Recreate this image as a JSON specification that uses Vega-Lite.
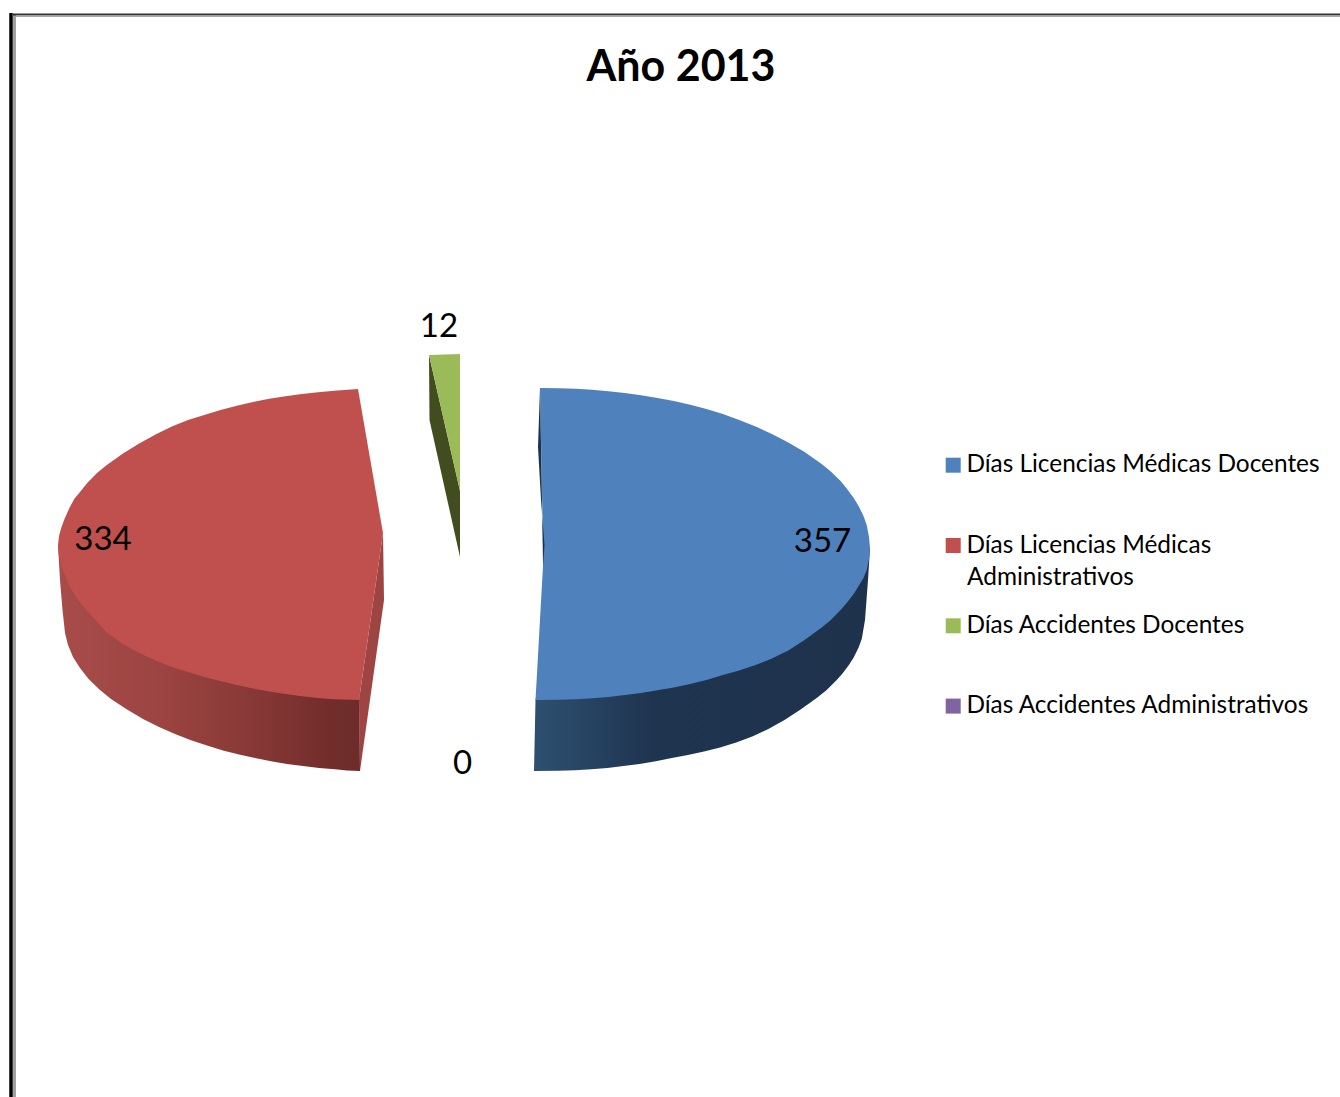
{"$schema":"https://vega.github.io/schema/vega-lite/v6.json","autosize":{"type":"fit","contains":"padding"},"width":1340,"height":1097,"padding":0,"background":"white","config":{"view":{"stroke":null}},
"title":{"text":"Año 2013","anchor":"middle","dx":11,"offset":-124,"baseline":"alphabetic","font":"Lato","fontWeight":"bold","fontSize":43,"color":"#000000"},
"datasets":{"slices":[{"category":"Días Licencias Médicas Docentes","value":357},{"category":"Días Licencias Médicas Administrativos","value":334},{"category":"Días Accidentes Docentes","value":12},{"category":"Días Accidentes Administrativos","value":0}],
"outline":[
{"shape":"redSide","i":1,"x":58,"y":545},{"shape":"redSide","i":2,"x":359,"y":640},{"shape":"redSide","i":3,"x":360,"y":771},{"shape":"redSide","i":4,"x":347,"y":770.4},{"shape":"redSide","i":5,"x":335,"y":769.3},{"shape":"redSide","i":6,"x":319,"y":767.9},{"shape":"redSide","i":7,"x":303,"y":766.1},{"shape":"redSide","i":8,"x":287,"y":763.9},{"shape":"redSide","i":9,"x":271,"y":761.3},{"shape":"redSide","i":10,"x":255,"y":758.1},{"shape":"redSide","i":11,"x":239,"y":754.5},{"shape":"redSide","i":12,"x":223,"y":750.4},{"shape":"redSide","i":13,"x":207,"y":745.6},{"shape":"redSide","i":14,"x":191,"y":740.2},{"shape":"redSide","i":15,"x":175,"y":734},{"shape":"redSide","i":16,"x":159,"y":727},{"shape":"redSide","i":17,"x":143,"y":719},{"shape":"redSide","i":18,"x":127,"y":709.5},{"shape":"redSide","i":19,"x":111,"y":699},{"shape":"redSide","i":20,"x":100,"y":690},{"shape":"redSide","i":21,"x":88.6,"y":679},{"shape":"redSide","i":22,"x":80,"y":668},{"shape":"redSide","i":23,"x":73,"y":657},{"shape":"redSide","i":24,"x":68,"y":645},{"shape":"redSide","i":25,"x":65,"y":633},{"shape":"redSide","i":26,"x":62.5,"y":610},{"shape":"redSide","i":27,"x":60,"y":580},
{"shape":"redFace","i":1,"x":383,"y":533},{"shape":"redFace","i":2,"x":384,"y":600},{"shape":"redFace","i":3,"x":360,"y":771},{"shape":"redFace","i":4,"x":359,"y":700},
{"shape":"blueSide","i":1,"x":545,"y":650},{"shape":"blueSide","i":2,"x":870,"y":548},{"shape":"blueSide","i":3,"x":868,"y":580},{"shape":"blueSide","i":4,"x":865,"y":620},{"shape":"blueSide","i":5,"x":861.8,"y":638.7},{"shape":"blueSide","i":6,"x":858.6,"y":647.6},{"shape":"blueSide","i":7,"x":853.7,"y":657.4},{"shape":"blueSide","i":8,"x":848.9,"y":665.1},{"shape":"blueSide","i":9,"x":842.5,"y":673.6},{"shape":"blueSide","i":10,"x":836,"y":680.8},{"shape":"blueSide","i":11,"x":826.4,"y":690.2},{"shape":"blueSide","i":12,"x":816.7,"y":698.1},{"shape":"blueSide","i":13,"x":800.6,"y":709.4},{"shape":"blueSide","i":14,"x":784.5,"y":720},{"shape":"blueSide","i":15,"x":768.4,"y":729},{"shape":"blueSide","i":16,"x":752.3,"y":736.5},{"shape":"blueSide","i":17,"x":736.2,"y":742.5},{"shape":"blueSide","i":18,"x":720.1,"y":747.5},{"shape":"blueSide","i":19,"x":704,"y":751.5},{"shape":"blueSide","i":20,"x":687.9,"y":755},{"shape":"blueSide","i":21,"x":671.8,"y":758.1},{"shape":"blueSide","i":22,"x":655.7,"y":761.3},{"shape":"blueSide","i":23,"x":639.6,"y":763.9},{"shape":"blueSide","i":24,"x":623.5,"y":766.1},{"shape":"blueSide","i":25,"x":607.4,"y":767.9},{"shape":"blueSide","i":26,"x":591.3,"y":769.3},{"shape":"blueSide","i":27,"x":575.2,"y":770.2},{"shape":"blueSide","i":28,"x":559.1,"y":770.8},{"shape":"blueSide","i":29,"x":534,"y":771},{"shape":"blueSide","i":30,"x":535.5,"y":700},
{"shape":"greenSide","i":1,"x":429,"y":355},{"shape":"greenSide","i":2,"x":460,"y":491},{"shape":"greenSide","i":3,"x":460,"y":557},{"shape":"greenSide","i":4,"x":429.5,"y":420},
{"shape":"sliver","i":1,"x":540,"y":388},{"shape":"sliver","i":2,"x":538,"y":447},{"shape":"sliver","i":3,"x":541,"y":500},{"shape":"sliver","i":4,"x":544.5,"y":545},{"shape":"sliver","i":5,"x":543,"y":566},{"shape":"sliver","i":6,"x":542,"y":500},
{"shape":"top","category":"Días Licencias Médicas Docentes","i":1,"x":540,"y":388},{"shape":"top","category":"Días Licencias Médicas Docentes","i":2,"x":559.4,"y":388.2},{"shape":"top","category":"Días Licencias Médicas Docentes","i":3,"x":575.7,"y":388.8},{"shape":"top","category":"Días Licencias Médicas Docentes","i":4,"x":592.1,"y":389.8},{"shape":"top","category":"Días Licencias Médicas Docentes","i":5,"x":608.4,"y":391.2},{"shape":"top","category":"Días Licencias Médicas Docentes","i":6,"x":624.8,"y":393},{"shape":"top","category":"Días Licencias Médicas Docentes","i":7,"x":641.1,"y":395.2},{"shape":"top","category":"Días Licencias Médicas Docentes","i":8,"x":657.5,"y":397.9},{"shape":"top","category":"Días Licencias Médicas Docentes","i":9,"x":673.8,"y":401},{"shape":"top","category":"Días Licencias Médicas Docentes","i":10,"x":690.2,"y":404.7},{"shape":"top","category":"Días Licencias Médicas Docentes","i":11,"x":706.5,"y":408.9},{"shape":"top","category":"Días Licencias Médicas Docentes","i":12,"x":722.9,"y":414},{"shape":"top","category":"Días Licencias Médicas Docentes","i":13,"x":739.2,"y":420},{"shape":"top","category":"Días Licencias Médicas Docentes","i":14,"x":755.6,"y":426.5},{"shape":"top","category":"Días Licencias Médicas Docentes","i":15,"x":771.9,"y":434},{"shape":"top","category":"Días Licencias Médicas Docentes","i":16,"x":788.3,"y":442.5},{"shape":"top","category":"Días Licencias Médicas Docentes","i":17,"x":804.6,"y":452},{"shape":"top","category":"Días Licencias Médicas Docentes","i":18,"x":821,"y":463.5},{"shape":"top","category":"Días Licencias Médicas Docentes","i":19,"x":830.8,"y":471.5},{"shape":"top","category":"Días Licencias Médicas Docentes","i":20,"x":840.6,"y":481},{"shape":"top","category":"Días Licencias Médicas Docentes","i":21,"x":847.1,"y":489},{"shape":"top","category":"Días Licencias Médicas Docentes","i":22,"x":853.7,"y":498},{"shape":"top","category":"Días Licencias Médicas Docentes","i":23,"x":858.6,"y":506},{"shape":"top","category":"Días Licencias Médicas Docentes","i":24,"x":863.5,"y":516},{"shape":"top","category":"Días Licencias Médicas Docentes","i":25,"x":866.7,"y":525},{"shape":"top","category":"Días Licencias Médicas Docentes","i":26,"x":869,"y":537},{"shape":"top","category":"Días Licencias Médicas Docentes","i":27,"x":870,"y":548},{"shape":"top","category":"Días Licencias Médicas Docentes","i":28,"x":869,"y":559},{"shape":"top","category":"Días Licencias Médicas Docentes","i":29,"x":866.7,"y":570},{"shape":"top","category":"Días Licencias Médicas Docentes","i":30,"x":863.5,"y":578},{"shape":"top","category":"Días Licencias Médicas Docentes","i":31,"x":858.6,"y":586},{"shape":"top","category":"Días Licencias Médicas Docentes","i":32,"x":853.7,"y":594},{"shape":"top","category":"Días Licencias Médicas Docentes","i":33,"x":847.1,"y":602.5},{"shape":"top","category":"Días Licencias Médicas Docentes","i":34,"x":840.6,"y":610},{"shape":"top","category":"Días Licencias Médicas Docentes","i":35,"x":830.8,"y":620},{"shape":"top","category":"Días Licencias Médicas Docentes","i":36,"x":821,"y":628},{"shape":"top","category":"Días Licencias Médicas Docentes","i":37,"x":804.6,"y":640},{"shape":"top","category":"Días Licencias Médicas Docentes","i":38,"x":788.3,"y":650.5},{"shape":"top","category":"Días Licencias Médicas Docentes","i":39,"x":771.9,"y":658.5},{"shape":"top","category":"Días Licencias Médicas Docentes","i":40,"x":755.6,"y":665},{"shape":"top","category":"Días Licencias Médicas Docentes","i":41,"x":739.2,"y":670.5},{"shape":"top","category":"Días Licencias Médicas Docentes","i":42,"x":722.9,"y":675},{"shape":"top","category":"Días Licencias Médicas Docentes","i":43,"x":706.5,"y":680},{"shape":"top","category":"Días Licencias Médicas Docentes","i":44,"x":690.2,"y":684},{"shape":"top","category":"Días Licencias Médicas Docentes","i":45,"x":673.8,"y":687.5},{"shape":"top","category":"Días Licencias Médicas Docentes","i":46,"x":657.5,"y":690.3},{"shape":"top","category":"Días Licencias Médicas Docentes","i":47,"x":641.1,"y":693},{"shape":"top","category":"Días Licencias Médicas Docentes","i":48,"x":624.8,"y":695},{"shape":"top","category":"Días Licencias Médicas Docentes","i":49,"x":608.4,"y":696.9},{"shape":"top","category":"Días Licencias Médicas Docentes","i":50,"x":592.1,"y":698.2},{"shape":"top","category":"Días Licencias Médicas Docentes","i":51,"x":575.7,"y":699.2},{"shape":"top","category":"Días Licencias Médicas Docentes","i":52,"x":559.4,"y":699.8},{"shape":"top","category":"Días Licencias Médicas Docentes","i":53,"x":535.5,"y":700},{"shape":"top","category":"Días Licencias Médicas Docentes","i":54,"x":543,"y":566},{"shape":"top","category":"Días Licencias Médicas Docentes","i":55,"x":543,"y":545},
{"shape":"top","category":"Días Licencias Médicas Administrativos","i":1,"x":358,"y":389},{"shape":"top","category":"Días Licencias Médicas Administrativos","i":2,"x":383,"y":533},{"shape":"top","category":"Días Licencias Médicas Administrativos","i":3,"x":359,"y":700},{"shape":"top","category":"Días Licencias Médicas Administrativos","i":4,"x":334.2,"y":699.3},{"shape":"top","category":"Días Licencias Médicas Administrativos","i":5,"x":318,"y":697.9},{"shape":"top","category":"Días Licencias Médicas Administrativos","i":6,"x":301.8,"y":696.3},{"shape":"top","category":"Días Licencias Médicas Administrativos","i":7,"x":285.5,"y":694},{"shape":"top","category":"Días Licencias Médicas Administrativos","i":8,"x":269.2,"y":691.5},{"shape":"top","category":"Días Licencias Médicas Administrativos","i":9,"x":253,"y":688.5},{"shape":"top","category":"Días Licencias Médicas Administrativos","i":10,"x":236.8,"y":685},{"shape":"top","category":"Días Licencias Médicas Administrativos","i":11,"x":220.5,"y":681},{"shape":"top","category":"Días Licencias Médicas Administrativos","i":12,"x":204.2,"y":677},{"shape":"top","category":"Días Licencias Médicas Administrativos","i":13,"x":188,"y":672},{"shape":"top","category":"Días Licencias Médicas Administrativos","i":14,"x":171.8,"y":667},{"shape":"top","category":"Días Licencias Médicas Administrativos","i":15,"x":155.5,"y":660.5},{"shape":"top","category":"Días Licencias Médicas Administrativos","i":16,"x":139.2,"y":653},{"shape":"top","category":"Días Licencias Médicas Administrativos","i":17,"x":123,"y":644},{"shape":"top","category":"Días Licencias Médicas Administrativos","i":18,"x":106.8,"y":632.5},{"shape":"top","category":"Días Licencias Médicas Administrativos","i":19,"x":97,"y":622},{"shape":"top","category":"Días Licencias Médicas Administrativos","i":20,"x":87.2,"y":611},{"shape":"top","category":"Días Licencias Médicas Administrativos","i":21,"x":80.8,"y":603.5},{"shape":"top","category":"Días Licencias Médicas Administrativos","i":22,"x":74.2,"y":594},{"shape":"top","category":"Días Licencias Médicas Administrativos","i":23,"x":69.4,"y":586},{"shape":"top","category":"Días Licencias Médicas Administrativos","i":24,"x":64.5,"y":574},{"shape":"top","category":"Días Licencias Médicas Administrativos","i":25,"x":61.2,"y":565},{"shape":"top","category":"Días Licencias Médicas Administrativos","i":26,"x":58.8,"y":555},{"shape":"top","category":"Días Licencias Médicas Administrativos","i":27,"x":58,"y":545},{"shape":"top","category":"Días Licencias Médicas Administrativos","i":28,"x":59,"y":536},{"shape":"top","category":"Días Licencias Médicas Administrativos","i":29,"x":61.2,"y":528},{"shape":"top","category":"Días Licencias Médicas Administrativos","i":30,"x":64.5,"y":519},{"shape":"top","category":"Días Licencias Médicas Administrativos","i":31,"x":69.4,"y":508},{"shape":"top","category":"Días Licencias Médicas Administrativos","i":32,"x":74.2,"y":499},{"shape":"top","category":"Días Licencias Médicas Administrativos","i":33,"x":80.8,"y":491},{"shape":"top","category":"Días Licencias Médicas Administrativos","i":34,"x":87.2,"y":483},{"shape":"top","category":"Días Licencias Médicas Administrativos","i":35,"x":97,"y":473},{"shape":"top","category":"Días Licencias Médicas Administrativos","i":36,"x":106.8,"y":465},{"shape":"top","category":"Días Licencias Médicas Administrativos","i":37,"x":123,"y":453.5},{"shape":"top","category":"Días Licencias Médicas Administrativos","i":38,"x":139.2,"y":443.5},{"shape":"top","category":"Días Licencias Médicas Administrativos","i":39,"x":155.5,"y":434.5},{"shape":"top","category":"Días Licencias Médicas Administrativos","i":40,"x":171.8,"y":426.5},{"shape":"top","category":"Días Licencias Médicas Administrativos","i":41,"x":188,"y":420},{"shape":"top","category":"Días Licencias Médicas Administrativos","i":42,"x":204.2,"y":415},{"shape":"top","category":"Días Licencias Médicas Administrativos","i":43,"x":220.5,"y":410},{"shape":"top","category":"Días Licencias Médicas Administrativos","i":44,"x":236.8,"y":405.7},{"shape":"top","category":"Días Licencias Médicas Administrativos","i":45,"x":253,"y":402},{"shape":"top","category":"Días Licencias Médicas Administrativos","i":46,"x":269.2,"y":398.8},{"shape":"top","category":"Días Licencias Médicas Administrativos","i":47,"x":285.5,"y":396.2},{"shape":"top","category":"Días Licencias Médicas Administrativos","i":48,"x":301.8,"y":394},{"shape":"top","category":"Días Licencias Médicas Administrativos","i":49,"x":318,"y":392.2},{"shape":"top","category":"Días Licencias Médicas Administrativos","i":50,"x":334.2,"y":390.7},
{"shape":"top","category":"Días Accidentes Docentes","i":1,"x":429,"y":355},{"shape":"top","category":"Días Accidentes Docentes","i":2,"x":460,"y":354},{"shape":"top","category":"Días Accidentes Docentes","i":3,"x":460,"y":491}
],"frame":[{"part":"frame"}]},
"layer":[
{"data":{"name":"outline"},"transform":[{"filter":"datum.shape=='redSide'"}],"mark":{"type":"line","interpolate":"linear-closed","strokeWidth":0,"fill":{"gradient":"linear","x1":0,"y1":0,"x2":1,"y2":0,"stops":[{"offset":0,"color":"#a84c4a"},{"offset":0.35,"color":"#9b4441"},{"offset":0.65,"color":"#873836"},{"offset":0.9,"color":"#722d2b"},{"offset":1,"color":"#6c2c2b"}]}},"encoding":{"x":{"field":"x","type":"quantitative","scale":{"domain":[0,1340],"nice":false,"zero":false},"axis":null},"y":{"field":"y","type":"quantitative","scale":{"domain":[1097,0],"nice":false,"zero":false},"axis":null},"order":{"field":"i"}}},
{"data":{"name":"outline"},"transform":[{"filter":"datum.shape=='redFace'"}],"mark":{"type":"line","interpolate":"linear-closed","strokeWidth":0,"fill":"#9e4442"},"encoding":{"x":{"field":"x","type":"quantitative"},"y":{"field":"y","type":"quantitative"},"order":{"field":"i"}}},
{"data":{"name":"outline"},"transform":[{"filter":"datum.shape=='blueSide'"}],"mark":{"type":"line","interpolate":"linear-closed","strokeWidth":0,"fill":{"gradient":"linear","x1":0,"y1":0,"x2":1,"y2":0,"stops":[{"offset":0,"color":"#2e5070"},{"offset":0.2,"color":"#25405f"},{"offset":0.35,"color":"#1f344f"},{"offset":1,"color":"#1e324c"}]}},"encoding":{"x":{"field":"x","type":"quantitative"},"y":{"field":"y","type":"quantitative"},"order":{"field":"i"}}},
{"data":{"name":"outline"},"transform":[{"filter":"datum.shape=='greenSide'"}],"mark":{"type":"line","interpolate":"linear-closed","strokeWidth":0,"fill":"#414d1f"},"encoding":{"x":{"field":"x","type":"quantitative"},"y":{"field":"y","type":"quantitative"},"order":{"field":"i"}}},
{"data":{"name":"outline"},"transform":[{"filter":"datum.shape=='top'"}],"mark":{"type":"line","interpolate":"linear-closed","filled":true,"strokeWidth":0},"encoding":{"x":{"field":"x","type":"quantitative"},"y":{"field":"y","type":"quantitative"},"order":{"field":"i"},"color":{"field":"category","type":"nominal","scale":{"domain":["Días Licencias Médicas Docentes","Días Licencias Médicas Administrativos","Días Accidentes Docentes","Días Accidentes Administrativos"],"range":["#4f81bd","#c0504d","#9bbb59","#8064a2"]},"legend":{"title":null,"orient":"none","legendX":941,"legendY":453,"padding":0,"symbolType":"square","symbolSize":225,"symbolStrokeWidth":0,"symbolOpacity":1,"labelFont":"Lato","labelFontSize":24.4,"labelColor":"#000000","labelOffset":1,"labelLimit":500,"rowPadding":55.3,"labelExpr":"datum.label=='Días Licencias Médicas Administrativos'?'Días Licencias Médicas':datum.label"}}}},
{"data":{"name":"outline"},"transform":[{"filter":"datum.shape=='sliver'"}],"mark":{"type":"line","interpolate":"linear-closed","strokeWidth":0,"fill":"#1c3350"},"encoding":{"x":{"field":"x","type":"quantitative"},"y":{"field":"y","type":"quantitative"},"order":{"field":"i"}}},
{"data":{"name":"slices"},"transform":[{"filter":"datum.value==357"}],"mark":{"type":"text","font":"Lato","fontSize":33,"color":"#000000"},"encoding":{"text":{"field":"value","type":"quantitative"},"x":{"datum":822.5},"y":{"datum":542}}},
{"data":{"name":"slices"},"transform":[{"filter":"datum.value==334"}],"mark":{"type":"text","font":"Lato","fontSize":33,"color":"#000000"},"encoding":{"text":{"field":"value","type":"quantitative"},"x":{"datum":103},"y":{"datum":540}}},
{"data":{"name":"slices"},"transform":[{"filter":"datum.value==12"}],"mark":{"type":"text","font":"Lato","fontSize":33,"color":"#000000"},"encoding":{"text":{"field":"value","type":"quantitative"},"x":{"datum":439},"y":{"datum":327}}},
{"data":{"name":"slices"},"transform":[{"filter":"datum.value==0"}],"mark":{"type":"text","font":"Lato","fontSize":33,"color":"#000000"},"encoding":{"text":{"field":"value","type":"quantitative"},"x":{"datum":462.5},"y":{"datum":764}}},
{"data":{"name":"frame"},"mark":{"type":"text","font":"Lato","fontSize":24.4,"color":"#000000","align":"left","text":"Administrativos"},"encoding":{"x":{"datum":967},"y":{"datum":578}}},
{"data":{"name":"frame"},"mark":{"type":"rule","clip":true,"color":"#000000","strokeWidth":3.5},"encoding":{"x":{"datum":11},"y":{"datum":13},"y2":{"datum":1097}}},
{"data":{"name":"frame"},"mark":{"type":"rule","clip":true,"color":"#a0a0a0","strokeWidth":3},"encoding":{"x":{"datum":14.5},"y":{"datum":15},"y2":{"datum":1097}}},
{"data":{"name":"frame"},"mark":{"type":"rule","clip":true,"color":"#333333","strokeWidth":2},"encoding":{"x":{"datum":13},"x2":{"datum":1340},"y":{"datum":14.5}}},
{"data":{"name":"frame"},"mark":{"type":"rule","clip":true,"color":"#a8a8a8","strokeWidth":1.5},"encoding":{"x":{"datum":16},"x2":{"datum":1340},"y":{"datum":16.2}}}
]}
